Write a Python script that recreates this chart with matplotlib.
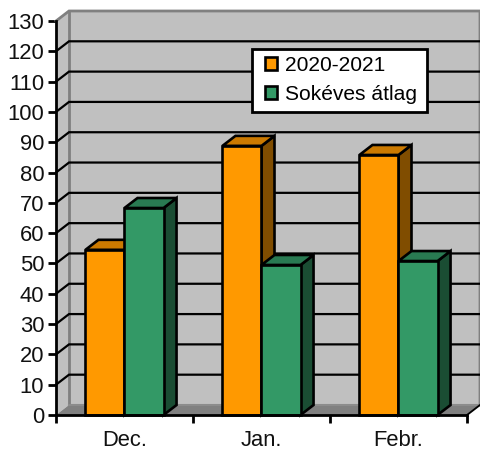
import matplotlib
matplotlib.use("Agg")
import matplotlib.pyplot as plt
from matplotlib.patches import Polygon, Patch, Rectangle

plt.rcParams['font.family'] = ['Liberation Sans', 'DejaVu Sans']

months = ["Dec.", "Jan.", "Febr."]
season = [54.5, 88.8, 85.8]
longterm = [68.3, 49.5, 50.8]
season_label = "2020-2021"
longterm_label = "Sokéves átlag"
value_ticks = list(range(0, 131, 10))

FS = 15.1
TICK_FS = 15.8
LW = 1.9
GRID_LW = 1.6
DX = 13 / 137      # depth offset in category units
DY = 10 / 3.03     # depth offset in value units
BAR_W = 0.285

fig = plt.figure(figsize=(4.81, 4.5), dpi=100, facecolor="white")
ax = fig.add_axes([56 / 481, 35 / 450, 411 / 481, 394 / 450])
ax.set_xlim(0, 3)
ax.set_ylim(0, 130)
ax.set_facecolor("none")


def poly(points, face, edge, lw, z):
    ax.add_patch(Polygon(points, closed=True, facecolor=face, edgecolor=edge,
                         linewidth=lw, clip_on=False, zorder=z, joinstyle="miter"))


# Walls and floor of the 3D box
poly([(0, 0), (DX, DY), (DX, 130 + DY), (0, 130)], "#c0c0c0", "none", 0, 1)
poly([(DX, DY), (3 + DX, DY), (3 + DX, 130 + DY), (DX, 130 + DY)], "#c0c0c0", "none", 0, 1)
poly([(0, 0), (3, 0), (3 + DX, DY), (DX, DY)], "#808080", "none", 0, 1.5)
ax.plot([0, DX, 3 + DX, 3 + DX], [130, 130 + DY, 130 + DY, DY], color="#808080",
        lw=2.0, clip_on=False, zorder=2, solid_joinstyle="miter")
ax.plot([DX, DX], [DY, 130 + DY], color="#808080", lw=2.0, clip_on=False, zorder=2)
ax.plot([DX, 3 + DX], [DY, DY], color="#8c8c8c", lw=1.5, clip_on=False, zorder=2)
ax.plot([3, 3 + DX], [0, DY], color="black", lw=LW * 0.7, clip_on=False, zorder=2)

# Gridlines run across the back wall and slant along the side wall
for v in value_ticks[1:-1]:
    ax.plot([0, DX, 3 + DX], [v, v + DY, v + DY], color="black", lw=GRID_LW,
            clip_on=False, zorder=3, solid_joinstyle="miter")


def bar3d(x0, h, front, top, side):
    x1 = x0 + BAR_W
    poly([(x1, 0), (x1 + DX, DY), (x1 + DX, h + DY), (x1, h)], side, "black", LW, 4)
    poly([(x0, h), (x1, h), (x1 + DX, h + DY), (x0 + DX, h + DY)], top, "black", LW, 4)
    poly([(x0, 0), (x1, 0), (x1, h), (x0, h)], front, "black", LW, 4)


for i, (a, b) in enumerate(zip(season, longterm)):
    centre = i + 0.5
    bar3d(centre - BAR_W, a, "#ff9900", "#cc7a00", "#804d00")
    bar3d(centre, b, "#339966", "#297a52", "#1a4d33")

# Axes lines and ticks
for name in ("top", "right"):
    ax.spines[name].set_visible(False)
for name in ("left", "bottom"):
    ax.spines[name].set_linewidth(2.0)
    ax.spines[name].set_zorder(6)
ax.set_yticks(value_ticks)
ax.set_yticklabels([str(v) for v in value_ticks], fontsize=TICK_FS, color="#111111")
ax.tick_params(axis="y", length=5.8, width=2.0, pad=2.6)
ax.set_xticks([0, 1, 2, 3])
ax.set_xticklabels([])
ax.tick_params(axis="x", which="major", length=6, width=2.0)
ax.set_xticks([0.5, 1.5, 2.5], minor=True)
ax.set_xticklabels(months, minor=True, fontsize=TICK_FS, color="#111111")
ax.tick_params(axis="x", which="minor", length=0, pad=10.5)

# Legend box: white panel behind an unframed legend
to_axes = ax.transAxes
ax.add_patch(Rectangle(((252 - 56) / 411, (415 - 112) / 394), 175 / 411, 63 / 394,
                       transform=to_axes, facecolor="white", edgecolor="black",
                       linewidth=2.0, clip_on=False, zorder=6.5))
handles = [Patch(facecolor="#ff9900", edgecolor="black", linewidth=LW, label=season_label),
           Patch(facecolor="#339966", edgecolor="black", linewidth=LW, label=longterm_label)]
leg = ax.legend(handles=handles, loc="upper left",
                bbox_to_anchor=((265 - 56) / 411, (415 - 56) / 394),
                borderaxespad=0, fontsize=FS, frameon=False,
                handlelength=0.55, handleheight=0.55, handletextpad=0.38,
                borderpad=0, labelspacing=0.48)
leg.set_zorder(7)

fig.savefig("out.png", dpi=100, facecolor="white")
